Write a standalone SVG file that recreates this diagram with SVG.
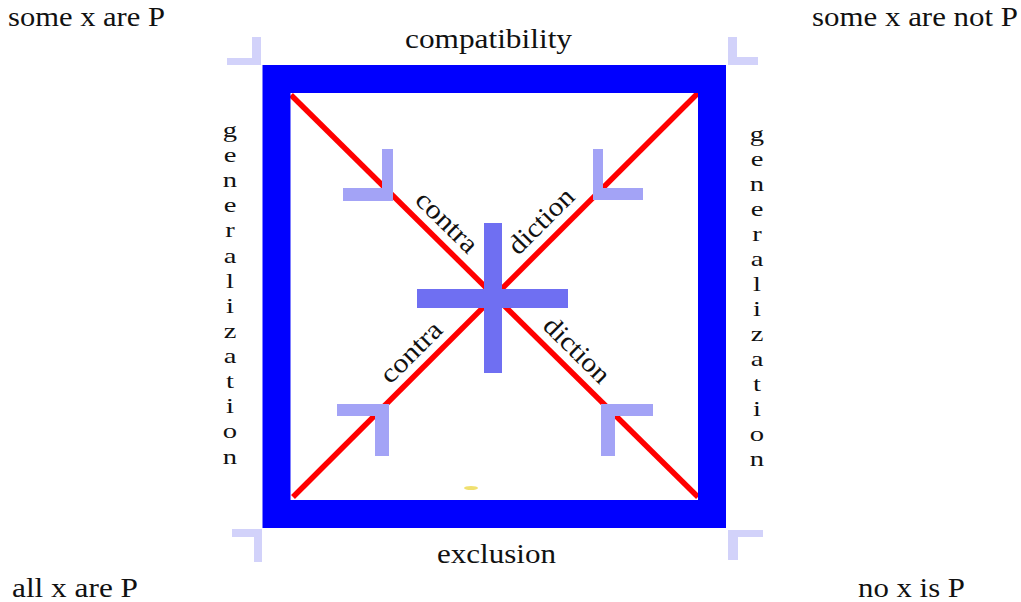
<svg xmlns="http://www.w3.org/2000/svg" width="1021" height="602" viewBox="0 0 1021 602">
<style>
text{font-family:"Liberation Serif","Times New Roman",serif;fill:#111;}
.lbl{font-size:27px;}
.vl{font-size:22px;text-anchor:middle;}
.dg{font-size:27px;text-anchor:middle;}
.red{stroke:#ff0000;stroke-width:5.5;fill:none;}
.inL{fill:#a3a3f6;}
.outL{fill:#d2d2fa;}
.cross{fill:#6f6ff2;}
</style>
<rect width="1021" height="602" fill="#ffffff"/>
<g id="connectors">
<line class="red" x1="291" y1="95" x2="698" y2="497"/>
<line class="red" x1="698" y1="93" x2="293" y2="497"/>
</g>
<g id="frame">
<rect x="276.5" y="79" width="435.5" height="435" fill="none" stroke="#0000ff" stroke-width="28"/>
</g>
<g id="center-cross">
<rect class="cross" x="484" y="223" width="18" height="150"/>
<rect class="cross" x="417" y="289" width="151" height="19"/>
</g>
<g id="inner-marks">
<rect class="inL" x="382" y="149" width="11" height="52"/>
<rect class="inL" x="343" y="188" width="50" height="13"/>
<rect class="inL" x="593" y="149" width="10" height="51"/>
<rect class="inL" x="593" y="188" width="50" height="12"/>
<rect class="inL" x="337" y="404" width="52" height="12"/>
<rect class="inL" x="375" y="404" width="14" height="52"/>
<rect class="inL" x="601" y="404" width="52" height="12"/>
<rect class="inL" x="601" y="404" width="14" height="52"/>
</g>
<g id="outer-marks">
<rect class="outL" x="252" y="37" width="9" height="28"/>
<rect class="outL" x="227" y="58" width="34" height="7"/>
<rect class="outL" x="728" y="37" width="9" height="28"/>
<rect class="outL" x="728" y="57" width="30" height="8"/>
<rect class="outL" x="232" y="529" width="30" height="8"/>
<rect class="outL" x="254" y="529" width="8" height="33"/>
<rect class="outL" x="728" y="530" width="35" height="7"/>
<rect class="outL" x="728" y="530" width="10" height="30"/>
</g>
<ellipse cx="471" cy="488" rx="7" ry="2" fill="#f0e070"/>
<g id="corner-some-x-are-P"><text class="lbl" x="8" y="26" textLength="157" lengthAdjust="spacingAndGlyphs">some x are P</text></g>
<g id="corner-some-x-are-not-P"><text class="lbl" x="812" y="26" textLength="206" lengthAdjust="spacingAndGlyphs">some x are not P</text></g>
<g id="corner-all-x-are-P"><text class="lbl" x="12" y="597" textLength="126" lengthAdjust="spacingAndGlyphs">all x are P</text></g>
<g id="corner-no-x-is-P"><text class="lbl" x="858" y="597" textLength="107" lengthAdjust="spacingAndGlyphs">no x is P</text></g>
<g id="label-compatibility"><text class="lbl" x="405" y="48" textLength="167" lengthAdjust="spacingAndGlyphs">compatibility</text></g>
<g id="label-exclusion"><text class="lbl" x="437" y="563" textLength="119" lengthAdjust="spacingAndGlyphs">exclusion</text></g>
<g id="label-generalization-left" transform="translate(230,0) scale(1.3,1)">
<text class="vl" x="0" y="137">g</text>
<text class="vl" x="0" y="162">e</text>
<text class="vl" x="0" y="187">n</text>
<text class="vl" x="0" y="212">e</text>
<text class="vl" x="0" y="237">r</text>
<text class="vl" x="0" y="263">a</text>
<text class="vl" x="0" y="288">l</text>
<text class="vl" x="0" y="313">i</text>
<text class="vl" x="0" y="338">z</text>
<text class="vl" x="0" y="363">a</text>
<text class="vl" x="0" y="388">t</text>
<text class="vl" x="0" y="413">i</text>
<text class="vl" x="0" y="438">o</text>
<text class="vl" x="0" y="464">n</text>
</g>
<g id="label-generalization-right" transform="translate(757,0) scale(1.3,1)">
<text class="vl" x="0" y="141">g</text>
<text class="vl" x="0" y="166">e</text>
<text class="vl" x="0" y="191">n</text>
<text class="vl" x="0" y="216">e</text>
<text class="vl" x="0" y="241">r</text>
<text class="vl" x="0" y="266">a</text>
<text class="vl" x="0" y="291">l</text>
<text class="vl" x="0" y="316">i</text>
<text class="vl" x="0" y="341">z</text>
<text class="vl" x="0" y="366">a</text>
<text class="vl" x="0" y="391">t</text>
<text class="vl" x="0" y="416">i</text>
<text class="vl" x="0" y="441">o</text>
<text class="vl" x="0" y="466">n</text>
</g>
<g id="label-contra-upper"><text class="dg" transform="translate(433,236) rotate(44.7)" x="0" y="-11" textLength="76" lengthAdjust="spacingAndGlyphs">contra</text></g>
<g id="label-diction-upper"><text class="dg" transform="translate(555,235) rotate(-44.9)" x="0" y="-11" textLength="82" lengthAdjust="spacingAndGlyphs">diction</text></g>
<g id="label-contra-lower"><text class="dg" transform="translate(425,366) rotate(-44.9)" x="0" y="-11" textLength="76" lengthAdjust="spacingAndGlyphs">contra</text></g>
<g id="label-diction-lower"><text class="dg" transform="translate(563,364) rotate(44.7)" x="0" y="-11" textLength="82" lengthAdjust="spacingAndGlyphs">diction</text></g>
</svg>
